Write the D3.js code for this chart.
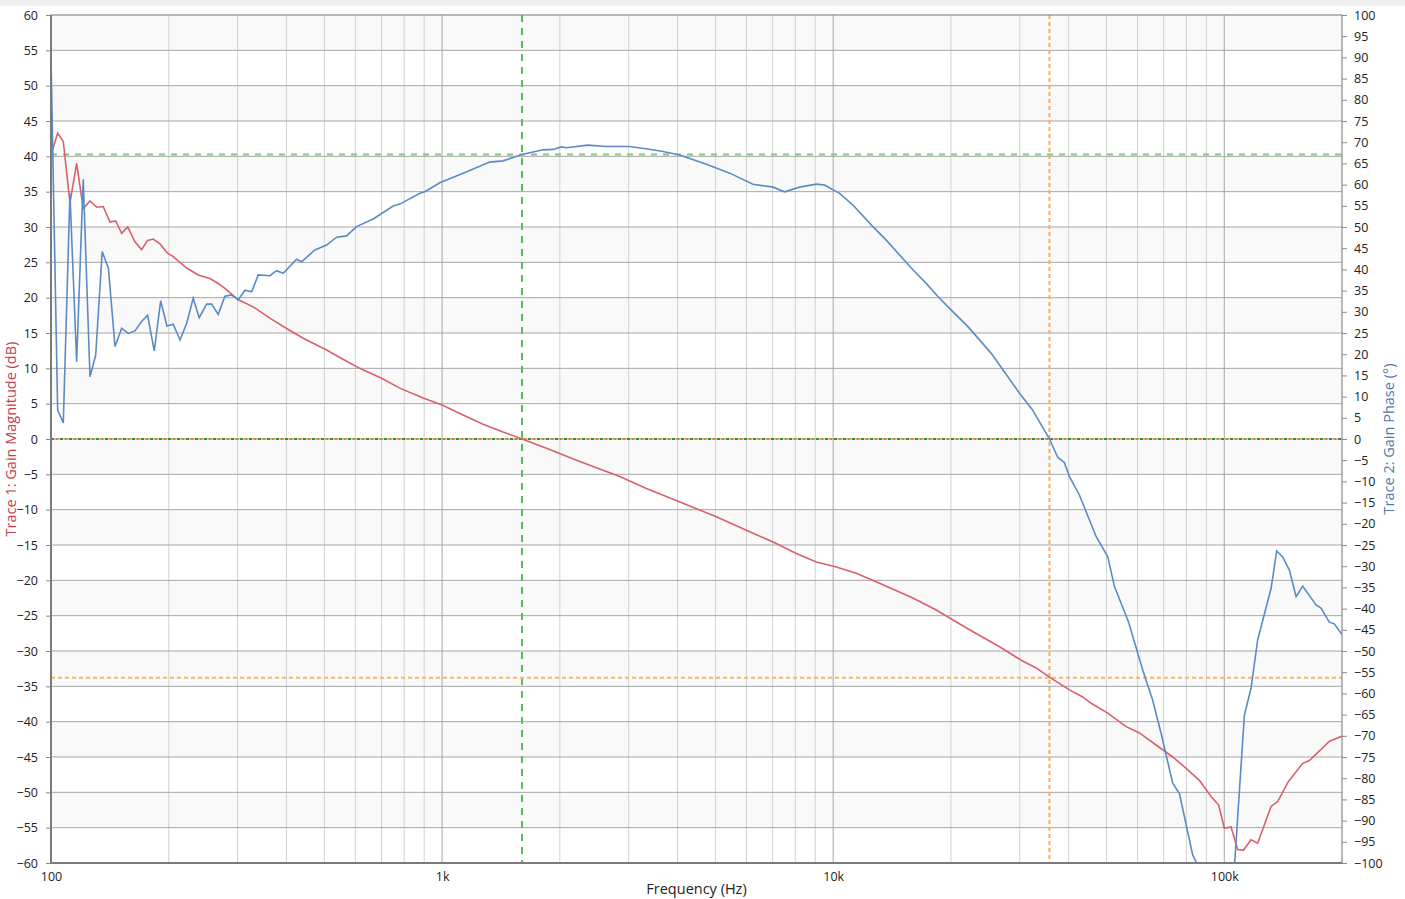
<!DOCTYPE html>
<meta charset="utf-8">
<style>
    body { margin: 0; background: #fff; }
    svg text { font-family: "Segoe UI", "Open Sans", "Noto Sans", sans-serif; fill: #222; }
    .tick text { font-size: 12.5px; }
</style>
<svg width="1405" height="899"></svg>
<script src="https://d3js.org/d3.v7.min.js"></script>
<script>
    // Trace 1: gain magnitude (dB)
    var magFreq = [100, 104, 107.5, 111.8, 116.3, 120.9, 125.8, 130.9, 136, 141.5, 146.3, 151.6, 157.1, 163.9, 170.5, 176.6,
        182.6, 189.9, 198.7, 205.4, 222.3, 237.9, 254.9, 267.7, 278.4, 301.1, 328.9, 362.8, 404.2, 441.4, 506.6, 553.4,
        616.1, 700, 779.8, 894.3, 1000, 1131.5, 1273, 1432, 1601, 1849, 2206, 2846, 3330, 4130, 5027, 5998, 7155, 8050,
        9054, 10184, 11456, 13140, 15989, 18342, 22316, 26630, 30254, 33036, 35727, 40188, 43452, 45660, 50361, 56124,
        60690, 66940, 73820, 79890, 86380, 92530, 96760, 100060, 104080, 108200, 111900, 117080, 121720, 131750, 136960,
        145800, 158650, 165030, 185600, 198800, 200000];
    var magDb = [40.2, 43.3, 42.1, 33.4, 39.0, 32.6, 33.7, 32.8, 32.9, 30.7, 30.85, 29.1, 30.0, 27.9, 26.8, 28.1,
        28.3, 27.6, 26.3, 25.8, 24.2, 23.2, 22.7, 22.0, 21.3, 19.7, 18.7, 17.1, 15.5, 14.25, 12.6, 11.4,
        10.0, 8.6, 7.2, 5.8, 4.8, 3.4, 2.1, 1.0, 0.0, -1.3, -3.0, -5.3, -7.0, -9.1, -11.0, -12.9, -14.8, -16.2,
        -17.4, -18.1, -19.0, -20.4, -22.5, -24.2, -27.0, -29.4, -31.3, -32.4, -33.7, -35.5, -36.5, -37.4, -38.8, -40.7,
        -41.6, -43.3, -45.0, -46.6, -48.3, -50.6, -51.8, -55.1, -54.9, -58.1, -58.2, -56.7, -57.2, -52.0, -51.3,
        -48.5, -45.9, -45.5, -42.8, -42.1, -42.0];

    // Trace 2: gain phase (deg)
    var phaseFreq = [100, 104, 107.5, 111.8, 116.3, 120.9, 125.8, 130.1, 135.2, 140.2, 145.8, 151.6, 157.6, 163.9, 170.5,
        176.6, 183.7, 190.7, 197.9, 205.4, 213.7, 222.3, 231, 239.3, 250, 257.5, 267.7, 278.4, 289.6, 301.1, 313.2,
        325.9, 338.8, 362.8, 377.4, 392.4, 424.6, 437.3, 472.8, 506.6, 537.3, 570, 604.3, 666.3, 749.8, 779.8, 877.1,
        903.3, 986.6, 1131.5, 1324, 1432, 1601, 1812, 1922, 2020, 2080, 2357, 2632, 3018, 3454, 3671, 4050, 4740, 5437,
        6234, 7015, 7514, 8206, 9054, 9507, 10384, 11228, 12635, 13669, 14780, 15989, 17294, 18705, 20040, 22107,
        25360, 26630, 29950, 32380, 35727, 37510, 39020, 40188, 42610, 47020, 50361, 52390, 56880, 61880, 65610,
        68930, 73820, 76790, 83040, 88970, 98000, 104000, 106500, 112570, 117080, 121720, 131750, 136160, 141050,
        146700, 152600, 158650, 171650, 176780, 185600, 191140, 198800, 200000];
    var phaseDeg = [90, 6.8, 3.8, 57.9, 18.2, 61.25, 14.7, 19.8, 44.2, 40.3, 21.8, 26.1, 24.9, 25.5, 27.7,
        29.2, 20.75, 32.6, 26.65, 27.05, 23.35, 27.3, 33.2, 28.6, 31.8, 31.8, 29.4, 33.7, 34.0, 32.8, 35.1,
        34.7, 38.7, 38.5, 39.7, 39.1, 42.4, 41.8, 44.6, 45.75, 47.6, 47.9, 50.1, 51.9, 54.95, 55.4, 57.95,
        58.3, 60.45, 62.7, 65.3, 65.6, 67.1, 68.2, 68.3, 68.9, 68.7, 69.3, 69.0, 69.0, 68.2, 67.8, 67.0, 64.8, 62.7,
        60.1, 59.4, 58.3, 59.4, 60.1, 59.9, 57.95, 55.2, 50.1, 46.9, 43.4, 39.9, 36.7, 33.2, 30.4, 26.5,
        20.2, 17.45, 10.8, 6.8, 0.0, -4.3, -5.6, -8.9, -13.2, -23.0, -27.8, -34.8, -43.1, -54.5, -61.6,
        -69.4, -81.2, -83.6, -98.1, -104, -112, -108, -99, -65.1, -58.8, -47.4, -35.2, -26.4, -27.8,
        -30.9, -37.2, -34.7, -39.15, -39.9, -43.2, -43.6, -45.8, -46.0];

    // markers: crossover frequency / phase margin, phase crossover / gain margin
    var crossFreq = 1601, phaseMargin = 67.1;
    var phaseCrossFreq = 35727, gainMargin = -33.8;

    var magTicks = d3.range(-60, 61, 5);
    var phaseTicks = d3.range(-100, 101, 5);
    var freqTicks = [100, 1000, 10000, 100000];
    var freqLabels = ['100', '1k', '10k', '100k'];

    var svg = d3.select('svg'),
        margin = { top: 15, right: 63, bottom: 36, left: 51 },
        width = +svg.attr('width') - margin.left - margin.right,
        height = +svg.attr('height') - margin.top - margin.bottom;

    svg.append('rect').attr('width', 1405).attr('height', 6).attr('fill', '#f0f0f0');

    var x = d3.scaleLog().domain([100, 200000]).range([0, width]),
        yL = d3.scaleLinear().domain([-60, 60]).range([height, 0]),
        yR = d3.scaleLinear().domain([-100, 100]).range([height, 0]);

    var g = svg.append('g').attr('transform', 'translate(' + margin.left + ',' + margin.top + ')');

    g.append('clipPath').attr('id', 'plot')
        .append('rect').attr('width', width).attr('height', height);

    // alternating bands every 5 dB
    g.selectAll('.band')
        .data(d3.range(60, -60, -10))
        .enter().append('rect')
        .attr('x', 0)
        .attr('width', width)
        .attr('y', d => yL(d))
        .attr('height', d => yL(d - 5) - yL(d))
        .attr('fill', '#f9f9f9');

    // vertical grid
    var minor = [];
    [100, 1000, 10000, 100000].forEach(function (dec) {
        for (var k = 2; k <= 9; k++) minor.push(dec * k);
    });
    minor = minor.filter(d => d < 200000);
    g.selectAll('.vminor').data(minor).enter().append('line')
        .attr('x1', d => x(d)).attr('x2', d => x(d))
        .attr('y1', 0).attr('y2', height)
        .attr('stroke', '#d2d2d2');
    g.selectAll('.vmajor').data(freqTicks.slice(1)).enter().append('line')
        .attr('x1', d => x(d)).attr('x2', d => x(d))
        .attr('y1', 0).attr('y2', height)
        .attr('stroke', '#a6a6a6');

    // horizontal grid
    g.selectAll('.hgrid').data(magTicks.slice(1, -1)).enter().append('line')
        .attr('x1', 0).attr('x2', width)
        .attr('y1', d => yL(d)).attr('y2', d => yL(d))
        .attr('stroke', '#a6a6a6');

    // marker lines
    var markers = g.append('g');
    markers.append('line')
        .attr('x1', 0).attr('x2', width)
        .attr('y1', yL(0)).attr('y2', yL(0))
        .attr('stroke', '#3f8a3a').attr('stroke-width', 2).attr('stroke-dasharray', '3,6');
    markers.append('line')
        .attr('x1', 0).attr('x2', width)
        .attr('y1', yR(0)).attr('y2', yR(0))
        .attr('stroke', '#c98a22').attr('stroke-width', 2).attr('stroke-dasharray', '3,6')
        .attr('stroke-dashoffset', -4.5);
    markers.append('line')
        .attr('x1', 0).attr('x2', width)
        .attr('y1', yR(phaseMargin)).attr('y2', yR(phaseMargin))
        .attr('stroke', '#84c284').attr('stroke-width', 2).attr('stroke-dasharray', '6,6');
    markers.append('line')
        .attr('x1', x(crossFreq)).attr('x2', x(crossFreq))
        .attr('y1', 0).attr('y2', height)
        .attr('stroke', '#5cb85c').attr('stroke-width', 2).attr('stroke-dasharray', '7,6');
    markers.append('line')
        .attr('x1', 0).attr('x2', width)
        .attr('y1', yL(gainMargin)).attr('y2', yL(gainMargin))
        .attr('stroke', '#ffb466').attr('stroke-width', 2).attr('stroke-dasharray', '4,3');
    markers.append('line')
        .attr('x1', x(phaseCrossFreq)).attr('x2', x(phaseCrossFreq))
        .attr('y1', 0).attr('y2', height)
        .attr('stroke', '#ffaa55').attr('stroke-width', 2).attr('stroke-dasharray', '4,3');

    // traces
    var traces = g.append('g').attr('clip-path', 'url(#plot)');
    var magLine = d3.line().x(d => x(d[0])).y(d => yL(d[1]));
    var phaseLine = d3.line().x(d => x(d[0])).y(d => yR(d[1]));
    traces.append('path')
        .datum(d3.zip(magFreq, magDb))
        .attr('d', magLine)
        .attr('fill', 'none').attr('stroke', '#d8606b').attr('stroke-width', 1.6);
    traces.append('path')
        .datum(d3.zip(phaseFreq, phaseDeg))
        .attr('d', phaseLine)
        .attr('fill', 'none').attr('stroke', '#5b8bc5').attr('stroke-width', 1.6);

    // frame
    g.append('rect').attr('width', width).attr('height', height)
        .attr('fill', 'none').attr('stroke', '#8a8a8a').attr('stroke-width', 1.2);
    g.append('line').attr('x1', 0).attr('x2', 0).attr('y1', 0).attr('y2', height)
        .attr('stroke', '#7a7a7a').attr('stroke-width', 2);
    g.append('line').attr('x1', 0).attr('x2', width).attr('y1', height).attr('y2', height)
        .attr('stroke', '#7a7a7a').attr('stroke-width', 2);

    // axes
    var axL = g.append('g')
        .call(d3.axisLeft(yL).tickValues(magTicks).tickSize(5).tickPadding(8));
    var axR = g.append('g')
        .attr('transform', 'translate(' + width + ',0)')
        .call(d3.axisRight(yR).tickValues(phaseTicks).tickSize(5).tickPadding(7));
    var axB = g.append('g')
        .attr('transform', 'translate(0,' + height + ')')
        .call(d3.axisBottom(x).tickValues(freqTicks).tickFormat((d, i) => freqLabels[i]).tickSize(0).tickPadding(9));
    [axL, axR, axB].forEach(function (a) {
        a.select('.domain').remove();
        a.selectAll('.tick line').attr('stroke', '#8a8a8a');
        a.selectAll('.tick text').attr('fill', '#222');
    });

    // titles
    svg.append('text')
        .attr('x', margin.left + width / 2).attr('y', 894)
        .attr('text-anchor', 'middle').style('font-size', '14.5px')
        .text('Frequency (Hz)');
    svg.append('text')
        .attr('transform', 'translate(16,' + (margin.top + yL(0)) + ') rotate(-90)')
        .attr('text-anchor', 'middle').style('font-size', '14.5px').style('fill', '#c0404f')
        .text('Trace 1: Gain Magnitude (dB)');
    svg.append('text')
        .attr('transform', 'translate(1394,' + (margin.top + yL(0)) + ') rotate(-90)')
        .attr('text-anchor', 'middle').style('font-size', '14.5px').style('fill', '#4f78a8')
        .text('Trace 2: Gain Phase (°)');
</script>
